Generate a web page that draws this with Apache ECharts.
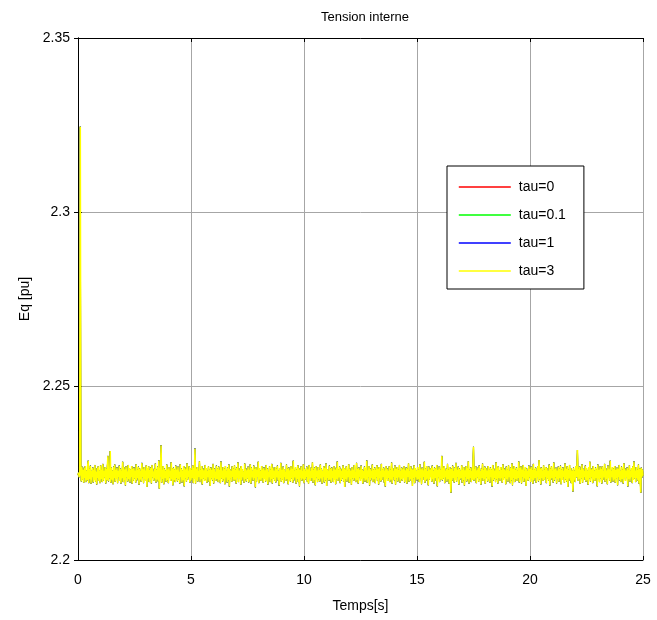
<!DOCTYPE html>
<html>
<head>
<meta charset="utf-8">
<script src="https://cdn.jsdelivr.net/npm/echarts@6/dist/echarts.min.js"></script>
<style>
  html, body { margin: 0; padding: 0; background: #fff; }
  #chart { width: 657px; height: 620px; }
</style>
</head>
<body>
<div id="chart"></div>
<script>
// Internal EMF Eq [pu], one sample every dt seconds over 25 s (one row = 1 s)
const dt = 0.025;
const seriesNames = ['tau=0', 'tau=0.1', 'tau=1', 'tau=3'];
const seriesColors = ['#ff0000', '#00ff00', '#0000ff', '#ffff00'];
const xTicks = [0, 5, 10, 15, 20, 25];
const yTicks = [2.2, 2.25, 2.3, 2.35];

const eqTau3 = [
  2.2244, 2.2251, 2.2238, 2.2247, 2.3245, 2.2262, 2.2226, 2.2268, 2.2231, 2.2259, 2.2222, 2.2265, 2.2236, 2.2270, 2.2224, 2.2257, 2.2229, 2.2267, 2.2285, 2.2221, 2.2263, 2.2233, 2.2271, 2.2219, 2.2256,
  2.2239, 2.2266, 2.2223, 2.2260, 2.2230, 2.2273, 2.2225, 2.2254, 2.2217, 2.2264, 2.2235, 2.2269, 2.2227, 2.2258, 2.2221, 2.2272, 2.2232, 2.2261, 2.2224, 2.2276, 2.2228, 2.2255, 2.2237, 2.2267, 2.2220,
  2.2262, 2.2229, 2.2270, 2.2299, 2.2226, 2.2259, 2.2234, 2.2313, 2.2222, 2.2265, 2.2231, 2.2257, 2.2218, 2.2268, 2.2236, 2.2274, 2.2225, 2.2260, 2.2233, 2.2266, 2.2221, 2.2256, 2.2238, 2.2271, 2.2227,
  2.2263, 2.2220, 2.2258, 2.2235, 2.2282, 2.2224, 2.2267, 2.2230, 2.2261, 2.2214, 2.2269, 2.2237, 2.2255, 2.2226, 2.2273, 2.2232, 2.2264, 2.2223, 2.2259, 2.2239, 2.2270, 2.2219, 2.2262, 2.2228, 2.2266,
  2.2234, 2.2257, 2.2222, 2.2275, 2.2229, 2.2260, 2.2236, 2.2268, 2.2216, 2.2263, 2.2231, 2.2256, 2.2225, 2.2279, 2.2238, 2.2261, 2.2221, 2.2267, 2.2233, 2.2258, 2.2227, 2.2272, 2.2210, 2.2264, 2.2235,
  2.2269, 2.2224, 2.2259, 2.2230, 2.2266, 2.2220, 2.2273, 2.2237, 2.2255, 2.2228, 2.2262, 2.2234, 2.2277, 2.2223, 2.2260, 2.2231, 2.2268, 2.2226, 2.2286, 2.2205, 2.2264, 2.2239, 2.2330, 2.2222, 2.2258,
  2.2232, 2.2270, 2.2218, 2.2263, 2.2236, 2.2257, 2.2225, 2.2274, 2.2229, 2.2261, 2.2221, 2.2267, 2.2238, 2.2256, 2.2227, 2.2281, 2.2233, 2.2262, 2.2215, 2.2265, 2.2230, 2.2259, 2.2224, 2.2271, 2.2235,
  2.2260, 2.2226, 2.2268, 2.2232, 2.2254, 2.2220, 2.2275, 2.2237, 2.2263, 2.2223, 2.2258, 2.2229, 2.2270, 2.2212, 2.2266, 2.2234, 2.2261, 2.2225, 2.2278, 2.2231, 2.2257, 2.2238, 2.2269, 2.2222, 2.2264,
  2.2228, 2.2259, 2.2236, 2.2272, 2.2221, 2.2265, 2.2233, 2.2320, 2.2219, 2.2262, 2.2230, 2.2267, 2.2226, 2.2256, 2.2239, 2.2284, 2.2224, 2.2260, 2.2232, 2.2270, 2.2217, 2.2263, 2.2235, 2.2258, 2.2227,
  2.2273, 2.2231, 2.2264, 2.2222, 2.2257, 2.2238, 2.2269, 2.2225, 2.2261, 2.2213, 2.2266, 2.2234, 2.2259, 2.2229, 2.2276, 2.2220, 2.2263, 2.2236, 2.2255, 2.2227, 2.2271, 2.2233, 2.2262, 2.2224, 2.2268,
  2.2230, 2.2260, 2.2221, 2.2283, 2.2235, 2.2257, 2.2226, 2.2267, 2.2232, 2.2263, 2.2218, 2.2270, 2.2237, 2.2258, 2.2223, 2.2265, 2.2229, 2.2274, 2.2211, 2.2261, 2.2234, 2.2256, 2.2225, 2.2269, 2.2238,
  2.2262, 2.2227, 2.2272, 2.2231, 2.2259, 2.2220, 2.2266, 2.2236, 2.2280, 2.2224, 2.2257, 2.2233, 2.2264, 2.2216, 2.2270, 2.2229, 2.2261, 2.2238, 2.2255, 2.2222, 2.2277, 2.2232, 2.2263, 2.2226, 2.2258,
  2.2235, 2.2268, 2.2223, 2.2260, 2.2230, 2.2275, 2.2219, 2.2265, 2.2237, 2.2256, 2.2228, 2.2271, 2.2234, 2.2262, 2.2209, 2.2267, 2.2225, 2.2259, 2.2239, 2.2282, 2.2221, 2.2264, 2.2231, 2.2257, 2.2227,
  2.2270, 2.2236, 2.2261, 2.2222, 2.2266, 2.2233, 2.2258, 2.2226, 2.2273, 2.2230, 2.2263, 2.2217, 2.2255, 2.2238, 2.2269, 2.2224, 2.2260, 2.2232, 2.2276, 2.2220, 2.2265, 2.2235, 2.2257, 2.2228, 2.2267,
  2.2223, 2.2262, 2.2237, 2.2271, 2.2229, 2.2256, 2.2214, 2.2264, 2.2234, 2.2279, 2.2225, 2.2259, 2.2231, 2.2268, 2.2221, 2.2261, 2.2238, 2.2255, 2.2227, 2.2274, 2.2233, 2.2263, 2.2218, 2.2266, 2.2230,
  2.2258, 2.2226, 2.2270, 2.2235, 2.2262, 2.2222, 2.2285, 2.2229, 2.2257, 2.2237, 2.2267, 2.2220, 2.2260, 2.2232, 2.2272, 2.2224, 2.2264, 2.2212, 2.2259, 2.2236, 2.2269, 2.2228, 2.2256, 2.2234, 2.2275,
  2.2221, 2.2263, 2.2231, 2.2258, 2.2238, 2.2268, 2.2225, 2.2261, 2.2219, 2.2273, 2.2233, 2.2256, 2.2227, 2.2266, 2.2236, 2.2281, 2.2222, 2.2260, 2.2230, 2.2265, 2.2215, 2.2270, 2.2237, 2.2257, 2.2224,
  2.2267, 2.2232, 2.2259, 2.2226, 2.2274, 2.2234, 2.2262, 2.2220, 2.2256, 2.2239, 2.2269, 2.2223, 2.2264, 2.2229, 2.2277, 2.2213, 2.2261, 2.2235, 2.2258, 2.2228, 2.2271, 2.2231, 2.2263, 2.2222, 2.2266,
  2.2236, 2.2257, 2.2224, 2.2270, 2.2230, 2.2260, 2.2218, 2.2265, 2.2233, 2.2283, 2.2227, 2.2259, 2.2237, 2.2268, 2.2221, 2.2262, 2.2229, 2.2256, 2.2235, 2.2272, 2.2225, 2.2264, 2.2210, 2.2261, 2.2232,
  2.2269, 2.2226, 2.2258, 2.2238, 2.2275, 2.2222, 2.2263, 2.2231, 2.2257, 2.2216, 2.2267, 2.2234, 2.2260, 2.2228, 2.2273, 2.2236, 2.2255, 2.2224, 2.2279, 2.2230, 2.2262, 2.2220, 2.2266, 2.2237, 2.2259,
  2.2227, 2.2271, 2.2233, 2.2261, 2.2219, 2.2256, 2.2235, 2.2268, 2.2225, 2.2264, 2.2231, 2.2286, 2.2222, 2.2258, 2.2238, 2.2270, 2.2214, 2.2263, 2.2229, 2.2257, 2.2236, 2.2274, 2.2224, 2.2260, 2.2232,
  2.2266, 2.2221, 2.2259, 2.2237, 2.2272, 2.2228, 2.2262, 2.2217, 2.2267, 2.2234, 2.2256, 2.2226, 2.2276, 2.2230, 2.2261, 2.2239, 2.2265, 2.2223, 2.2258, 2.2211, 2.2270, 2.2233, 2.2263, 2.2227, 2.2257,
  2.2235, 2.2269, 2.2224, 2.2260, 2.2231, 2.2280, 2.2220, 2.2264, 2.2238, 2.2257, 2.2229, 2.2271, 2.2216, 2.2262, 2.2234, 2.2267, 2.2226, 2.2259, 2.2237, 2.2273, 2.2222, 2.2256, 2.2232, 2.2265, 2.2228,
  2.2261, 2.2236, 2.2270, 2.2223, 2.2258, 2.2230, 2.2266, 2.2219, 2.2263, 2.2239, 2.2278, 2.2225, 2.2257, 2.2233, 2.2269, 2.2227, 2.2262, 2.2213, 2.2260, 2.2235, 2.2272, 2.2221, 2.2264, 2.2238, 2.2256,
  2.2229, 2.2267, 2.2232, 2.2259, 2.2224, 2.2275, 2.2236, 2.2261, 2.2218, 2.2265, 2.2230, 2.2258, 2.2237, 2.2282, 2.2222, 2.2263, 2.2228, 2.2270, 2.2234, 2.2256, 2.2215, 2.2268, 2.2231, 2.2260, 2.2239,
  2.2264, 2.2225, 2.2271, 2.2233, 2.2257, 2.2220, 2.2266, 2.2236, 2.2262, 2.2227, 2.2273, 2.2212, 2.2259, 2.2238, 2.2268, 2.2224, 2.2261, 2.2231, 2.2256, 2.2299, 2.2229, 2.2265, 2.2235, 2.2270, 2.2221,
  2.2258, 2.2237, 2.2263, 2.2226, 2.2276, 2.2232, 2.2260, 2.2219, 2.2267, 2.2234, 2.2193, 2.2262, 2.2228, 2.2271, 2.2236, 2.2257, 2.2223, 2.2265, 2.2230, 2.2279, 2.2225, 2.2259, 2.2238, 2.2268, 2.2217,
  2.2263, 2.2231, 2.2256, 2.2235, 2.2272, 2.2222, 2.2261, 2.2229, 2.2267, 2.2214, 2.2258, 2.2237, 2.2270, 2.2226, 2.2264, 2.2233, 2.2284, 2.2220, 2.2260, 2.2236, 2.2266, 2.2224, 2.2257, 2.2230, 2.2274,
  2.2325, 2.2228, 2.2262, 2.2234, 2.2269, 2.2221, 2.2258, 2.2238, 2.2265, 2.2225, 2.2271, 2.2232, 2.2256, 2.2216, 2.2263, 2.2236, 2.2277, 2.2227, 2.2260, 2.2233, 2.2268, 2.2219, 2.2264, 2.2237, 2.2257,
  2.2226, 2.2270, 2.2231, 2.2261, 2.2223, 2.2266, 2.2239, 2.2259, 2.2211, 2.2273, 2.2229, 2.2262, 2.2235, 2.2257, 2.2224, 2.2281, 2.2232, 2.2264, 2.2220, 2.2269, 2.2236, 2.2256, 2.2227, 2.2267, 2.2234,
  2.2260, 2.2222, 2.2275, 2.2230, 2.2263, 2.2237, 2.2258, 2.2218, 2.2268, 2.2233, 2.2261, 2.2226, 2.2272, 2.2238, 2.2256, 2.2221, 2.2265, 2.2229, 2.2278, 2.2215, 2.2262, 2.2235, 2.2270, 2.2224, 2.2259,
  2.2232, 2.2266, 2.2227, 2.2257, 2.2236, 2.2283, 2.2223, 2.2264, 2.2230, 2.2269, 2.2220, 2.2260, 2.2238, 2.2273, 2.2225, 2.2258, 2.2234, 2.2267, 2.2213, 2.2263, 2.2231, 2.2256, 2.2228, 2.2271, 2.2237,
  2.2262, 2.2224, 2.2268, 2.2233, 2.2259, 2.2219, 2.2276, 2.2229, 2.2261, 2.2236, 2.2265, 2.2222, 2.2257, 2.2239, 2.2270, 2.2226, 2.2287, 2.2232, 2.2263, 2.2217, 2.2266, 2.2235, 2.2258, 2.2227, 2.2272,
  2.2230, 2.2260, 2.2237, 2.2267, 2.2221, 2.2264, 2.2234, 2.2256, 2.2228, 2.2274, 2.2214, 2.2262, 2.2231, 2.2269, 2.2236, 2.2258, 2.2223, 2.2280, 2.2229, 2.2261, 2.2238, 2.2265, 2.2220, 2.2257, 2.2233,
  2.2268, 2.2225, 2.2263, 2.2235, 2.2271, 2.2218, 2.2259, 2.2230, 2.2266, 2.2237, 2.2256, 2.2222, 2.2277, 2.2232, 2.2262, 2.2226, 2.2269, 2.2210, 2.2260, 2.2234, 2.2273, 2.2228, 2.2264, 2.2221, 2.2258,
  2.2236, 2.2197, 2.2265, 2.2231, 2.2257, 2.2224, 2.2270, 2.2238, 2.2261, 2.2316, 2.2227, 2.2263, 2.2233, 2.2268, 2.2219, 2.2259, 2.2235, 2.2275, 2.2222, 2.2262, 2.2230, 2.2256, 2.2237, 2.2271, 2.2225,
  2.2264, 2.2229, 2.2258, 2.2216, 2.2267, 2.2234, 2.2282, 2.2226, 2.2260, 2.2238, 2.2263, 2.2221, 2.2270, 2.2231, 2.2257, 2.2227, 2.2266, 2.2236, 2.2261, 2.2212, 2.2274, 2.2233, 2.2259, 2.2224, 2.2268,
  2.2235, 2.2262, 2.2220, 2.2269, 2.2230, 2.2256, 2.2237, 2.2276, 2.2225, 2.2264, 2.2232, 2.2258, 2.2218, 2.2271, 2.2236, 2.2261, 2.2228, 2.2285, 2.2223, 2.2257, 2.2238, 2.2267, 2.2226, 2.2263, 2.2231,
  2.2270, 2.2222, 2.2259, 2.2234, 2.2265, 2.2215, 2.2262, 2.2237, 2.2273, 2.2229, 2.2256, 2.2224, 2.2268, 2.2233, 2.2260, 2.2220, 2.2278, 2.2236, 2.2263, 2.2227, 2.2257, 2.2239, 2.2266, 2.2211, 2.2261,
  2.2232, 2.2272, 2.2226, 2.2258, 2.2238, 2.2264, 2.2221, 2.2269, 2.2230, 2.2283, 2.2235, 2.2257, 2.2224, 2.2267, 2.2236, 2.2260, 2.2228, 2.2274, 2.2219, 2.2262, 2.2233, 2.2193, 2.2265, 2.2237, 2.2259,
  2.2242
];
// the smaller time constants settle onto the same trace and sit under tau=3
const eqTau0 = eqTau3;
const eqTau01 = eqTau3;
const eqTau1 = eqTau3;
const allSeries = [eqTau0, eqTau01, eqTau1, eqTau3];
const lineWidths = [1, 1, 1, 1.6];

const font = 'Liberation Sans, Arial, sans-serif';
const yFmt = v => String(+v.toFixed(2));

const chart = echarts.init(document.getElementById('chart'), null, { renderer: 'canvas' });

const axisLine = { show: true, lineStyle: { color: '#000', width: 1 } };
const tick = { show: true, inside: true, length: 4, lineStyle: { color: '#000' } };
const grid = { show: true, lineStyle: { color: '#a6a6a6', width: 1, type: 'solid' } };

chart.setOption({
  animation: false,
  backgroundColor: '#fff',
  title: {
    text: 'Tension interne',
    left: 360, top: 6, textAlign: 'center',
    textStyle: { fontFamily: font, fontSize: 13, fontWeight: 'normal', color: '#000' }
  },
  legend: {
    orient: 'vertical',
    left: 447, top: 166,
    data: seriesNames,
    backgroundColor: '#fff',
    borderColor: '#000', borderWidth: 1, borderRadius: 0,
    padding: [14, 18, 11, 11],
    itemWidth: 52, itemHeight: 14, itemGap: 14,
    itemStyle: { opacity: 0 },
    lineStyle: { width: 1.6 },
    textStyle: { fontFamily: font, fontSize: 14, color: '#000', padding: [0, 0, 0, 3] },
    selectedMode: false
  },
  grid: { left: 78, right: 14, top: 38, bottom: 60 },
  xAxis: [
    {
      type: 'value', min: 0, max: 25, interval: 5,
      name: 'Temps[s]', nameLocation: 'middle', nameGap: 39,
      nameTextStyle: { fontFamily: font, fontSize: 14, color: '#000' },
      axisLine, axisTick: tick, splitLine: grid,
      axisLabel: { fontFamily: font, fontSize: 14, color: '#000', margin: 13,
        customValues: xTicks }
    },
    {
      type: 'value', min: 0, max: 25, interval: 5, position: 'top',
      axisLine, axisTick: tick, splitLine: { show: false }, axisLabel: { show: false }
    }
  ],
  yAxis: [
    {
      type: 'value', min: 2.2, max: 2.35, interval: 0.05,
      name: 'Eq [pu]', nameLocation: 'middle', nameGap: 46, nameRotate: 90,
      nameTextStyle: { fontFamily: font, fontSize: 14, color: '#000' },
      axisLine, axisTick: tick, splitLine: grid,
      axisLabel: { fontFamily: font, fontSize: 14, color: '#000', margin: 8, formatter: yFmt }
    },
    {
      type: 'value', min: 2.2, max: 2.35, interval: 0.05, position: 'right',
      axisLine, axisTick: tick, splitLine: { show: false }, axisLabel: { show: false }
    }
  ],
  series: seriesNames.map((name, k) => ({
    name,
    type: 'line',
    xAxisIndex: 0, yAxisIndex: 0,
    data: allSeries[k].map((v, i) => [i * dt, v]),
    showSymbol: false, symbol: 'none',
    sampling: null,
    lineStyle: { color: seriesColors[k], width: lineWidths[k] },
    itemStyle: { color: seriesColors[k] },
    z: 2 + k
  }))
});
</script>
</body>
</html>
